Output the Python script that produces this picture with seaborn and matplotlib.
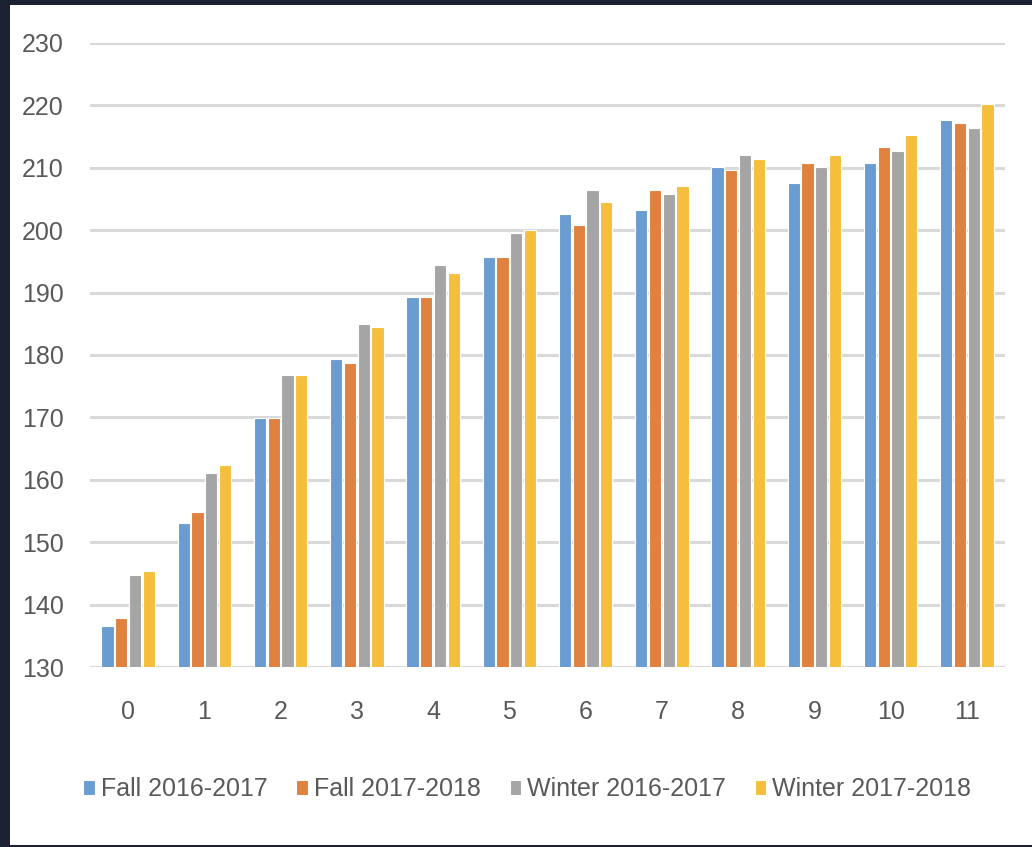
import matplotlib
matplotlib.use("Agg")
import matplotlib.pyplot as plt
import seaborn as sns
import pandas as pd
from matplotlib.patches import Rectangle

# values
categories = list(range(12))
fall_2016 = [136.6, 153.0, 169.9, 179.4, 189.3, 195.7, 202.6, 203.2, 210.2, 207.6, 210.8, 217.7]
fall_2017 = [137.9, 154.8, 169.9, 178.7, 189.3, 195.7, 200.8, 206.4, 209.6, 210.8, 213.3, 217.1]
winter_2016 = [144.7, 161.1, 176.8, 185.0, 194.4, 199.5, 206.4, 205.8, 212.1, 210.2, 212.7, 216.4]
winter_2017 = [145.4, 162.4, 176.8, 184.5, 193.2, 200.1, 204.5, 207.1, 211.4, 212.1, 215.2, 220.2]
series_names = ["Fall 2016-2017", "Fall 2017-2018", "Winter 2016-2017", "Winter 2017-2018"]
y_ticks = list(range(130, 231, 10))

colors = ["#6A9CD2", "#E0823F", "#A5A5A5", "#F5BF3D"]

rows = []
for name, vals in zip(series_names, [fall_2016, fall_2017, winter_2016, winter_2017]):
    for c, v in zip(categories, vals):
        rows.append({"cat": c, "value": v, "series": name})
df = pd.DataFrame(rows)

sns.set_style("white")
plt.rcParams['font.family'] = ['Liberation Sans', 'DejaVu Sans']

fig = plt.figure(figsize=(10.32, 8.47), dpi=100, facecolor="#1b2130")
# white card behind the chart
fig.patches.append(Rectangle((10 / 1032, 2 / 847), 1022 / 1032, 840 / 847,
                             transform=fig.transFigure, facecolor="white",
                             edgecolor="none", zorder=-10))

ax = fig.add_axes([90 / 1032, 1 - 667 / 847, 915 / 1032, 624 / 847])
ax.set_facecolor("none")
ax.set_zorder(2)

sns.barplot(df, x="cat", y="value", hue="series", palette=colors, ax=ax,
            width=0.72, gap=0.12, edgecolor="white", linewidth=0.8,
            saturation=1, errorbar=None, zorder=3)

ax.set_ylim(130, 230)
ax.set_xlim(-0.5, 11.5)
ax.set_yticks(y_ticks)
ax.yaxis.grid(True, color="#d9d9d9", linewidth=2.2, zorder=0)
ax.set_axisbelow(True)
for s in ax.spines.values():
    s.set_visible(False)
ax.tick_params(axis="both", length=0, labelsize=18, labelcolor="#595959")
ax.tick_params(axis="x", pad=24)
ax.tick_params(axis="y", pad=19)
ax.set_xlabel("")
ax.set_ylabel("")

handles, labels = ax.get_legend_handles_labels()
ax.legend(handles, labels, loc="center", bbox_to_anchor=(0.478, -0.196),
          ncol=4, frameon=False, fontsize=18, handlelength=0.45,
          handleheight=0.6, handletextpad=0.25, columnspacing=1.15,
          labelcolor="#595959")

plt.savefig("out.png", dpi=100, facecolor=fig.get_facecolor())
